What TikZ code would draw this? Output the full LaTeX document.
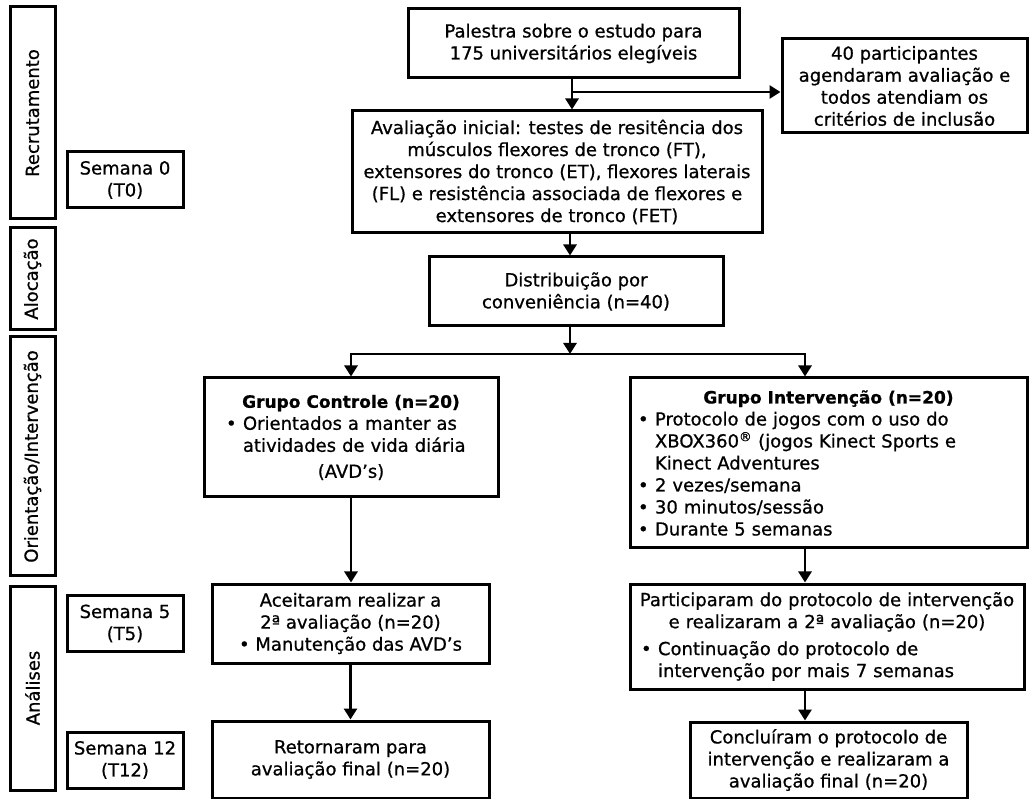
\documentclass[tikz,border=0pt]{standalone}
\usepackage{fontspec}
\setmainfont{DejaVu Sans}[FakeBold=0.8]
\usetikzlibrary{arrows.meta}
\setlength{\parindent}{0pt}
\newcommand\bul{\makebox[17pt][l]{•}}
\newcommand\ind{\hspace*{17pt}}
\newcommand\ttl[1]{\makebox[\hsize][c]{\fontsize{17}{22}\selectfont\bfseries #1}}
\newcommand\ctr[1]{\makebox[\hsize][c]{#1}}
\begin{document}
\begin{tikzpicture}[x=1pt,y=-1pt,
  every node/.style={font=\fontsize{18}{22}\selectfont, text=black},
  box/.style={draw=black, line width=3pt, inner sep=0pt, align=center},
  lbox/.style={draw=black, line width=3pt, inner ysep=0pt, align=left},
  phase/.style={box, rotate=90, minimum height=45pt},
  arr/.style={line width=2.8pt, -{Triangle[length=11pt,width=13pt]}}]
\useasboundingbox (0,0) rectangle (1029,799);

% phase labels
\node[phase, minimum width=212pt] (rec) at (32.5,113) {Recrutamento};
\node[phase, minimum width=102pt] (aloc) at (32.5,279) {Alocação};
\node[phase, minimum width=239pt] (ori) at (32.5,456.5) {Orientação/Intervenção};
\node[phase, minimum width=204pt] (ana) at (32.5,688) {Análises};

% weeks
\node[box, minimum width=116pt, minimum height=56pt] (s0) at (125,180) {Semana 0\\(T0)};
\node[box, minimum width=116pt, minimum height=56pt] (s5) at (125,623.5) {Semana 5\\(T5)};
\node[box, minimum width=116pt, minimum height=56pt] (s12) at (125,760) {Semana 12\\(T12)};

% main flow
\node[box, minimum width=331pt, minimum height=69pt] (pal) at (573.5,43.5)
  {Palestra sobre o estudo para\\175 universitários elegíveis};
\node[box, minimum width=245pt, minimum height=94pt] (part40) at (904.5,86)
  {40 participantes\\agendaram avaliação e\\todos atendiam os\\critérios de inclusão};
\node[box, minimum width=410pt, minimum height=122pt] (aval) at (557,172)
  {Avaliação inicial: testes de resitência dos\\músculos flexores de tronco (FT),\\extensores do tronco (ET), flexores laterais\\(FL) e resistência associada de flexores e\\extensores de tronco (FET)};
\node[box, minimum width=294pt, minimum height=69pt] (dist) at (576,291.5)
  {Distribuição por\\conveniência (n=40)};

\node[lbox, inner xsep=22pt, text width=250pt, minimum height=119pt] (gc) at (351,437.5)
  {\ttl{Grupo Controle (n=20)}\\
   \bul Orientados a manter as\\
   \ind atividades de vida diária\\[4pt]
   \ctr{(AVD’s)}};
\node[lbox, inner xsep=8pt, text width=381pt, minimum height=170pt] (gi) at (828.5,463)
  {\ttl{Grupo Intervenção (n=20)}\\
   \bul Protocolo de jogos com o uso do\\
   \ind XBOX360\textsuperscript{®} (jogos Kinect Sports e\\
   \ind Kinect Adventures\\
   \bul 2 vezes/semana\\
   \bul 30 minutos/sessão\\
   \bul Durante 5 semanas};

\node[box, minimum width=277pt, minimum height=79pt] (ac) at (350.5,623.5)
  {Aceitaram realizar a\\2ª avaliação (n=20)\\• Manutenção das AVD’s};
\node[lbox, inner xsep=11pt, text width=372pt, minimum height=105pt] (pa) at (827,636.5)
  {\ctr{Participaram do protocolo de intervenção}\\
   \ctr{e realizaram a 2ª avaliação (n=20)}\\[5pt]
   \bul Continuação do protocolo de\\
   \ind intervenção por mais 7 semanas};

\node[box, minimum width=277pt, minimum height=77pt] (ret) at (350.5,759.5)
  {Retornaram para\\avaliação final (n=20)};
\node[box, minimum width=277pt, minimum height=76pt] (con) at (828.5,760)
  {Concluíram o protocolo de\\intervenção e realizaram a\\avaliação final (n=20)};

% connectors
\coordinate (j1) at (572,92);
\coordinate (a2) at (570,354);
\coordinate (ix) at (805,354);
\draw[arr] (pal.south -| j1) -- (aval.north -| j1);
\draw[arr] (j1) -- (j1 -| part40.west);
\draw[arr] (aval.south -| a2) -- (dist.north -| a2);
\draw[arr] (dist.south -| a2) -- (a2);
\draw[arr] (a2) -| (gc.north);
\draw[arr] (a2) -| (ix |- gi.north);
\draw[arr] (gc.south) -- (gc.south |- ac.north);
\draw[arr] (ac.south) -- (ac.south |- ret.north);
\draw[arr] (gi.south -| ix) -- (pa.north -| ix);
\draw[arr] (pa.south -| ix) -- (con.north -| ix);
\end{tikzpicture}
\end{document}
